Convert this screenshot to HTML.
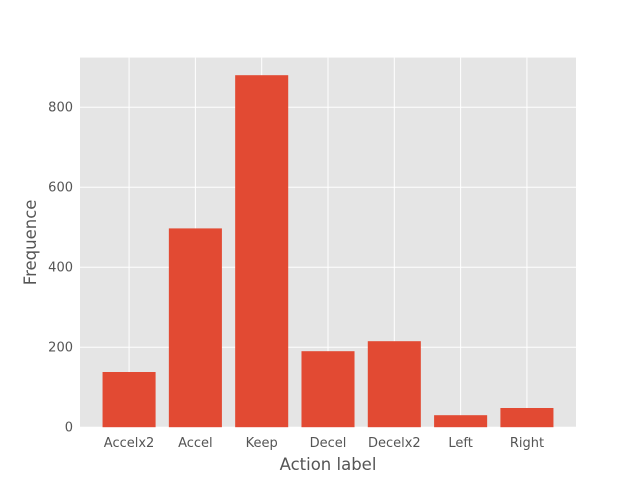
<!DOCTYPE html>
<html><head><meta charset="utf-8"><style>body{margin:0;background:#fff}svg{display:block}text{font-family:"DejaVu Sans","Liberation Sans",sans-serif}</style></head>
<body>
<svg id="c" width="640" height="480"></svg>
<script>
const categories=["Accelx2","Accel","Keep","Decel","Decelx2","Left","Right"];
const values=[138,497,880,190,215,30,48];
const yTicks=[0,200,400,600,800];
const L=80,R=576,T=57.6,B=427.2;
const ymax=Math.max(...values)*1.05;
const xmin=-0.74,xmax=categories.length-1+0.74;
const sx=v=>L+(v-xmin)/(xmax-xmin)*(R-L);
const sy=v=>B-v/ymax*(B-T);
const svg=document.getElementById('c');
const NS='http://www.w3.org/2000/svg';
function mk(t,a,p){const e=document.createElementNS(NS,t);for(const k in a)e.setAttribute(k,a[k]);(p||svg).appendChild(e);return e;}
const bg=mk('rect',{x:L,y:T,width:R-L,height:B-T,fill:'#e5e5e5'});


yTicks.forEach(v=>{
 const g=mk('line',{x1:L,x2:R,y1:sy(v),y2:sy(v),stroke:'#fff','stroke-width':1});
 
 
 const t=mk('text',{x:L-7,y:sy(v)+4.5,'text-anchor':'end','font-size':13,fill:'#555'});t.textContent=v;
 
 
});
categories.forEach((c,i)=>{
 const g=mk('line',{x1:sx(i),x2:sx(i),y1:T,y2:B,stroke:'#fff','stroke-width':1});
 
 
});
categories.forEach((c,i)=>{
 const x0=sx(i-0.4),x1=sx(i+0.4);
 const r=mk('rect',{x:x0,y:sy(values[i]),width:x1-x0,height:B-sy(values[i]),fill:'#e24a33'});
 
 
 const t=mk('text',{x:sx(i),y:B+20,'text-anchor':'middle','font-size':13,fill:'#555'});t.textContent=c;
 
 
});
const xt=mk('text',{x:(L+R)/2,y:470,'text-anchor':'middle','font-size':16.5,fill:'#555'});xt.textContent='Action label';


const yt=mk('text',{x:36,y:(T+B)/2,'text-anchor':'middle','font-size':16.5,fill:'#555',transform:'rotate(-90 36 '+((T+B)/2)+')'});yt.textContent='Frequence';


</script>
</body></html>
